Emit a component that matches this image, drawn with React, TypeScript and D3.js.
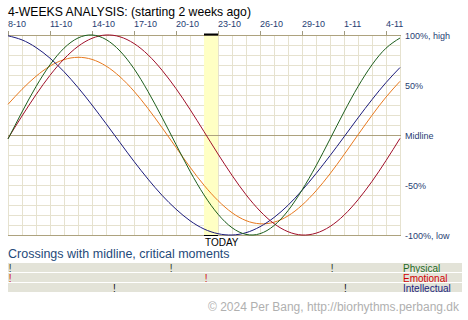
import React from 'react';
import * as d3 from 'd3';

const tickLabels = ["8-10", "11-10", "14-10", "17-10", "20-10", "23-10", "26-10", "29-10", "1-11", "4-11"];
const tickDays = [0, 3, 6, 9, 12, 15, 18, 21, 24, 27];
const dayIndex = [0,1,2,3,4,5,6,7,8,9,10,11,12,13,14,15,16,17,18,19,20,21,22,23,24,25,26,27,28];

const physical = [-0.04, 0.23, 0.484, 0.702, 0.868, 0.97, 1.0, 0.955, 0.84, 0.663, 0.435, 0.177, -0.095, -0.362, -0.599, -0.792, -0.927, -0.994, -0.987, -0.906, -0.757, -0.551, -0.309, -0.041, 0.23, 0.484, 0.702, 0.868, 0.97];
const emotional = [-0.034, 0.19, 0.403, 0.597, 0.76, 0.886, 0.967, 1.0, 0.982, 0.915, 0.802, 0.648, 0.464, 0.256, 0.034, -0.19, -0.403, -0.597, -0.76, -0.886, -0.967, -1.0, -0.982, -0.915, -0.802, -0.648, -0.464, -0.256, -0.034];
const intellectual = [0.992, 0.951, 0.875, 0.768, 0.633, 0.475, 0.3, 0.114, -0.076, -0.264, -0.441, -0.603, -0.742, -0.857, -0.94, -0.987, -1.0, -0.977, -0.917, -0.825, -0.703, -0.554, -0.386, -0.207, -0.019, 0.171, 0.354, 0.524, 0.675];
const average = [0.307, 0.457, 0.587, 0.689, 0.754, 0.777, 0.756, 0.69, 0.582, 0.438, 0.265, 0.074, -0.124, -0.321, -0.502, -0.656, -0.777, -0.856, -0.888, -0.872, -0.809, -0.702, -0.559, -0.388, -0.197, 0.002, 0.197, 0.379, 0.537];

const todayDay = 14;
const physicalCross = [0.15, 11.65, 23.15];
const emotionalCross = [0.15, 14.15];
const intellectualCross = [7.6, 24.1];
const levels = [1, 0.5, 0, -0.5, -1];
const levelLabels = ["100%, high", "50%", "Midline", "-50%", "-100%, low"];
const rowNames = ["Physical", "Emotional", "Intellectual"];

const FONT = "'Liberation Sans', Arial, sans-serif";
const BLUE_TXT = "#1f3d73";

export default function App() {
  const x = d3.scaleLinear().domain([0, 28]).range([8, 400]);
  const y = d3.scaleLinear().domain([-1, 1]).range([235, 35]);
  const line = (vals: number[]) =>
    d3.line<number>().x((_, i) => x(dayIndex[i])).y((v) => y(v)).curve(d3.curveNatural)(vals) || "";

  const gridV = d3.range(0, 29);
  const gridH = d3.range(-1, 1.0001, 0.1);

  const series = [
    { vals: average, color: "#e8791e" },
    { vals: intellectual, color: "#1c1c7c" },
    { vals: emotional, color: "#a0102a" },
    { vals: physical, color: "#1d5e1d" },
  ];

  const rows = [
    { cross: physicalCross, markColor: "#2b3b2b", labelColor: "#1f6a1f" },
    { cross: emotionalCross, markColor: "#d01010", labelColor: "#d00000" },
    { cross: intellectualCross, markColor: "#111111", labelColor: "#1a237e" },
  ];

  return (
    <svg width={468} height={320} style={{ position: 'absolute', left: 0, top: 0, display: 'block', background: '#fff' }}>
      <text x={8} y={16} fontFamily={FONT} fontSize={12.2} fill="#000">4-WEEKS ANALYSIS: (starting 2 weeks ago)</text>

      {tickDays.map((d, i) => (
        <g key={i}>
          <text x={x(d)} y={27} fontFamily={FONT} fontSize={9} fill={BLUE_TXT}>{tickLabels[i]}</text>
          <line x1={x(d) + 0.5} x2={x(d) + 0.5} y1={31} y2={35} stroke="#a09a80" />
        </g>
      ))}

      {gridV.map((d) => (
        <line key={'v' + d} x1={Math.round(x(d)) + 0.5} x2={Math.round(x(d)) + 0.5} y1={35} y2={235} stroke="#e6e2cf" />
      ))}
      {gridH.map((v, i) => (
        <line key={'h' + i} x1={8} x2={401} y1={Math.round(y(v)) + 0.5} y2={Math.round(y(v)) + 0.5} stroke="#e6e2cf" />
      ))}

      <rect x={x(todayDay)} y={35} width={x(todayDay + 1) - x(todayDay)} height={200} fill="#ffffc4" />

      {[1, 0, -1].map((v) => (
        <line key={'m' + v} x1={8} x2={401} y1={Math.round(y(v)) + 0.5} y2={Math.round(y(v)) + 0.5} stroke="#ada27e" />
      ))}

      <line x1={x(todayDay)} x2={x(todayDay + 1)} y1={34.5} y2={34.5} stroke="#000" strokeWidth={2} />
      <line x1={x(todayDay)} x2={x(todayDay + 1)} y1={235.5} y2={235.5} stroke="#000" strokeWidth={1} />
      <text x={x(todayDay) + 1} y={246} fontFamily={FONT} fontSize={10} fill="#000">TODAY</text>

      {series.map((s, i) => (
        <path key={i} d={line(s.vals)} fill="none" stroke={s.color} strokeWidth={1} />
      ))}

      {levels.map((v, i) => (
        <text key={'l' + i} x={405} y={y(v) + 3.5} fontFamily={FONT} fontSize={9} fill={BLUE_TXT}>{levelLabels[i]}</text>
      ))}

      <text x={8} y={258} fontFamily={FONT} fontSize={12.5} fill="#1f4a7a">Crossings with midline, critical moments</text>

      {rows.map((r, i) => {
        const top = 263 + i * 10;
        return (
          <g key={'r' + i}>
            <rect x={8} y={top} width={454} height={9} fill="#e3e3d8" />
            {r.cross.map((d, j) => (
              <text key={j} x={x(d)} y={top + 8.5} textAnchor="middle" fontFamily={FONT} fontSize={10} fill={r.markColor}>!</text>
            ))}
            <text x={403} y={top + 8.5} fontFamily={FONT} fontSize={10} fill={r.labelColor}>{rowNames[i]}</text>
          </g>
        );
      })}

      <text x={459} y={311} textAnchor="end" fontFamily={FONT} fontSize={12} fill="#b0b0b0">© 2024 Per Bang, http://biorhythms.perbang.dk</text>
    </svg>
  );
}
